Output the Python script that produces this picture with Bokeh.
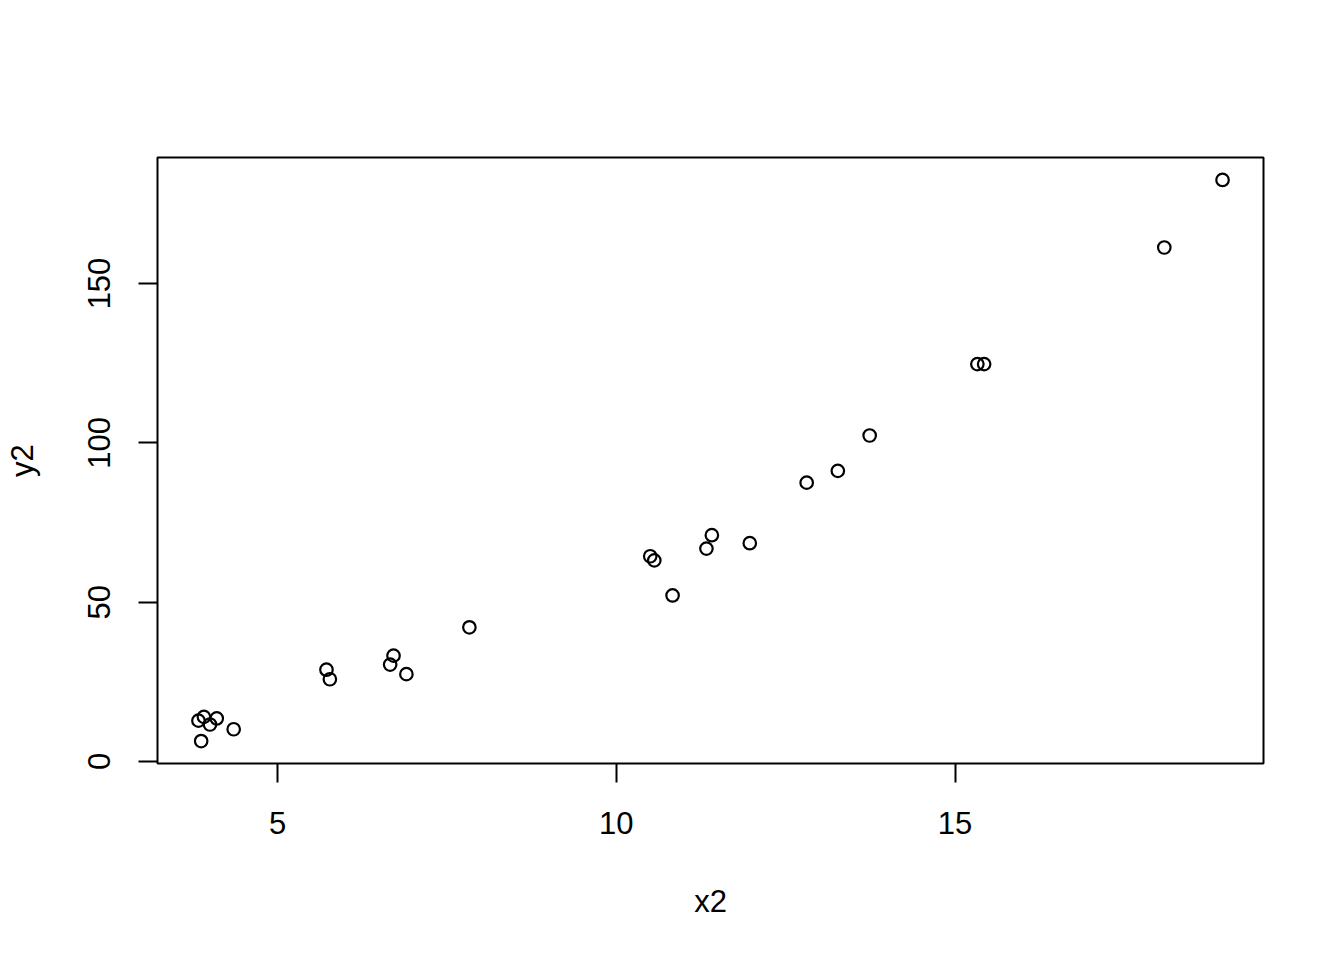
from bokeh.plotting import figure
from bokeh.models import Range1d, FixedTicker, ColumnDataSource
from bokeh.embed import file_html
from bokeh.resources import INLINE

x2 = [3.83, 3.91, 4.00, 4.10, 3.87, 4.35, 5.72, 5.77, 6.71, 6.66, 6.90, 7.83,
      10.50, 10.56, 11.41, 11.33, 11.97, 10.83, 12.81, 13.27, 13.74, 15.33,
      15.43, 18.95, 18.09]
y2 = [12.8, 14.0, 11.6, 13.5, 6.4, 10.1, 28.8, 25.8, 33.2, 30.4, 27.4, 42.1,
      64.4, 63.1, 71.0, 66.8, 68.5, 52.1, 87.5, 91.2, 102.3, 124.7,
      124.7, 182.5, 161.3]
x_ticks = [5, 10, 15]
y_ticks = [0, 50, 100, 150]

def padded(vals):
    lo, hi = min(vals), max(vals)
    d = (hi - lo) * 0.04
    return lo - d, hi + d

xr = padded(x2)
yr = padded(y2)

FONT = "Liberation Sans"
FS = "31px"

p = figure(width=1344, height=960, output_backend="svg", toolbar_location=None,
           x_range=Range1d(*xr), y_range=Range1d(*yr),
           min_border_left=157, min_border_right=81,
           min_border_top=157, min_border_bottom=197,
           background_fill_color="white", border_fill_color="white")

p.grid.visible = False
p.outline_line_color = "black"
p.outline_line_width = 2

src = ColumnDataSource(dict(x=x2, y=y2))
p.scatter("x", "y", source=src, size=12.5, fill_color=None,
          line_color="black", line_width=2.2)

p.xaxis.ticker = FixedTicker(ticks=x_ticks)
p.yaxis.ticker = FixedTicker(ticks=y_ticks)
for ax in (p.xaxis, p.yaxis):
    ax.axis_line_color = None
    ax.major_tick_line_color = "black"
    ax.major_tick_line_width = 2
    ax.major_tick_out = 19
    ax.major_tick_in = 0
    ax.minor_tick_line_color = None
    ax.major_label_text_font = FONT
    ax.major_label_text_font_size = FS
    ax.major_label_text_color = "black"
    ax.axis_label_text_font = FONT
    ax.axis_label_text_font_size = FS
    ax.axis_label_text_font_style = "normal"
    ax.axis_label_text_color = "black"

p.xaxis.axis_label = "x2"
p.yaxis.axis_label = "y2"
p.yaxis.major_label_orientation = "vertical"
p.xaxis.major_label_standoff = 29
p.yaxis.major_label_standoff = 28
p.xaxis.axis_label_standoff = 47
p.yaxis.axis_label_standoff = 46

open("out.html", "w").write(file_html(p, INLINE))
